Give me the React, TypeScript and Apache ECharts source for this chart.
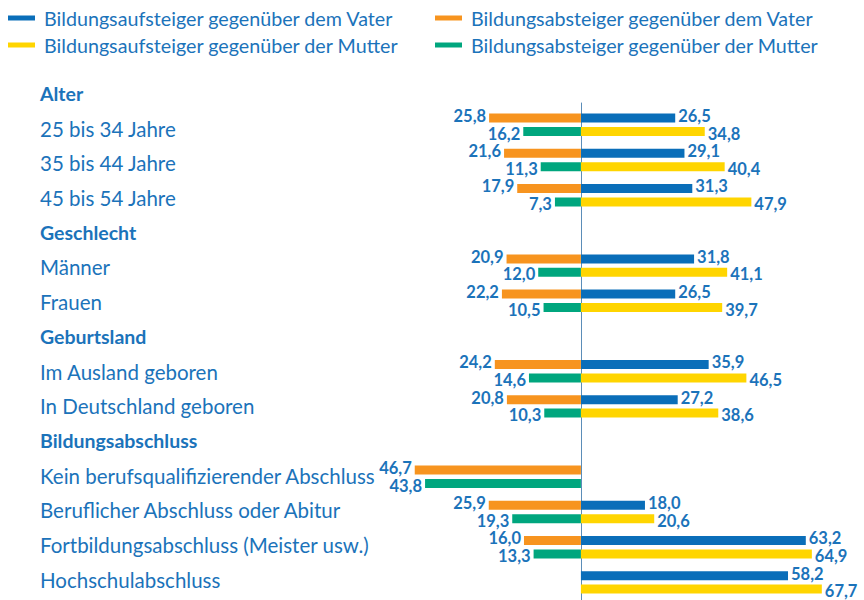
import React, { useEffect, useRef } from "react";
import * as echarts from "echarts";

const categories = [
  "Alter",
  "25 bis 34 Jahre",
  "35 bis 44 Jahre",
  "45 bis 54 Jahre",
  "Geschlecht",
  "Männer",
  "Frauen",
  "Geburtsland",
  "Im Ausland geboren",
  "In Deutschland geboren",
  "Bildungsabschluss",
  "Kein berufsqualifizierender Abschluss",
  "Beruflicher Abschluss oder Abitur",
  "Fortbildungsabschluss (Meister usw.)",
  "Hochschulabschluss",
];
const headers = ["Alter", "Geschlecht", "Geburtsland", "Bildungsabschluss"];

const seriesNames = [
  "Bildungsaufsteiger gegenüber dem Vater",
  "Bildungsabsteiger gegenüber dem Vater",
  "Bildungsaufsteiger gegenüber der Mutter",
  "Bildungsabsteiger gegenüber der Mutter",
];

const vaterAuf = [null, 26.5, 29.1, 31.3, null, 31.8, 26.5, null, 35.9, 27.2, null, null, 18.0, 63.2, 58.2];
const vaterAb = [null, 25.8, 21.6, 17.9, null, 20.9, 22.2, null, 24.2, 20.8, null, 46.7, 25.9, 16.0, null];
const mutterAuf = [null, 34.8, 40.4, 47.9, null, 41.1, 39.7, null, 46.5, 38.6, null, null, 20.6, 64.9, 67.7];
const mutterAb = [null, 16.2, 11.3, 7.3, null, 12.0, 10.5, null, 14.6, 10.3, null, 43.8, 19.3, 13.3, null];

const BLUE = "#0A6EB9";
const ORANGE = "#F7941F";
const YELLOW = "#FFD500";
const GREEN = "#00A67E";
const TEXT = "#1B73BA";
const AXIS = "#5B8DB8";
const FONT = "Lato";

const fmt = (v: any) =>
  v == null || isNaN(v) ? "" : Math.abs(Number(v)).toFixed(1).replace(".", ",");

export default function App() {
  const ref = useRef<HTMLDivElement>(null);
  useEffect(() => {
    if (!ref.current) return;
    const chart = echarts.init(ref.current, null, { renderer: "svg" });
    const labelStyle = (pos: string, dy: number) => ({
      show: true,
      position: pos,
      distance: 3,
      offset: [0, dy],
      color: TEXT,
      fontWeight: "bold",
      fontSize: 16.5,
      lineHeight: 12,
      fontFamily: FONT,
      formatter: (p: any) => fmt(p.value),
    });
    const neg = (arr: (number | null)[]) => arr.map((v) => (v == null ? null : -v));
    const barCommon = {
      type: "bar",
      barWidth: 9,
      barGap: "49%",
      xAxisIndex: 0,
      yAxisIndex: 0,
    };
    const legendBase = {
      icon: "rect",
      itemWidth: 27,
      itemHeight: 5,
      padding: 0,
      selectedMode: false,
      textStyle: { color: TEXT, fontSize: 19.7, fontFamily: FONT, lineHeight: 22, padding: [0, 0, 0, 4] },
    };
    chart.setOption({
      animation: false,
      textStyle: { fontFamily: FONT },
      legend: [
        { ...legendBase, data: [seriesNames[0]], left: 8, top: 7 },
        { ...legendBase, data: [seriesNames[1]], left: 435, top: 7 },
        { ...legendBase, data: [seriesNames[2]], left: 8, top: 34 },
        { ...legendBase, data: [seriesNames[3]], left: 435, top: 34 },
      ],
      grid: [
        { left: 403, top: 72, width: 427, height: 528 },
        { left: 403, top: 103, width: 427, height: 497 },
        { left: 403, top: 76.6, width: 427, height: 520.5 },
      ],
      xAxis: [
        { type: "value", gridIndex: 0, min: -50, max: 70, show: false },
        { type: "value", gridIndex: 1, min: -50, max: 70, show: false },
        { type: "value", gridIndex: 2, min: -50, max: 70, show: false },
      ],
      yAxis: [
        {
          type: "category",
          gridIndex: 0,
          data: categories,
          inverse: true,
          axisLine: { show: false, onZero: false },
          axisTick: { show: false },
          axisLabel: { show: false },
        },
        {
          type: "value",
          gridIndex: 1,
          min: 0,
          max: 1,
          axisLine: { show: true, onZero: true, lineStyle: { color: AXIS, width: 1 } },
          axisTick: { show: false },
          axisLabel: { show: false },
          splitLine: { show: false },
        },
        {
          type: "category",
          gridIndex: 2,
          data: categories,
          inverse: true,
          axisLine: { show: false, onZero: false },
          axisTick: { show: false },
          axisLabel: {
            align: "left",
            margin: 363,
            formatter: (v: string) => (headers.includes(v) ? `{h|${v}}` : `{n|${v}}`),
            rich: {
              h: { fontWeight: "bold", fontSize: 19.5, color: TEXT, fontFamily: FONT },
              n: { fontSize: 20.5, color: TEXT, fontFamily: FONT },
            },
          },
        },
      ],
      series: [
        { ...barCommon, name: seriesNames[0], stack: "vater", data: vaterAuf, itemStyle: { color: BLUE }, label: labelStyle("right", -2) },
        { ...barCommon, name: seriesNames[1], stack: "vater", data: neg(vaterAb), itemStyle: { color: ORANGE }, label: labelStyle("left", -2) },
        { ...barCommon, name: seriesNames[2], stack: "mutter", data: mutterAuf, itemStyle: { color: YELLOW }, label: labelStyle("right", 2) },
        { ...barCommon, name: seriesNames[3], stack: "mutter", data: neg(mutterAb), itemStyle: { color: GREEN }, label: labelStyle("left", 2) },
      ],
    });
    return () => chart.dispose();
  }, []);
  return (
    <div
      ref={ref}
      style={{ position: "fixed", left: 0, top: 0, width: 864, height: 600, background: "#fff" }}
    />
  );
}
